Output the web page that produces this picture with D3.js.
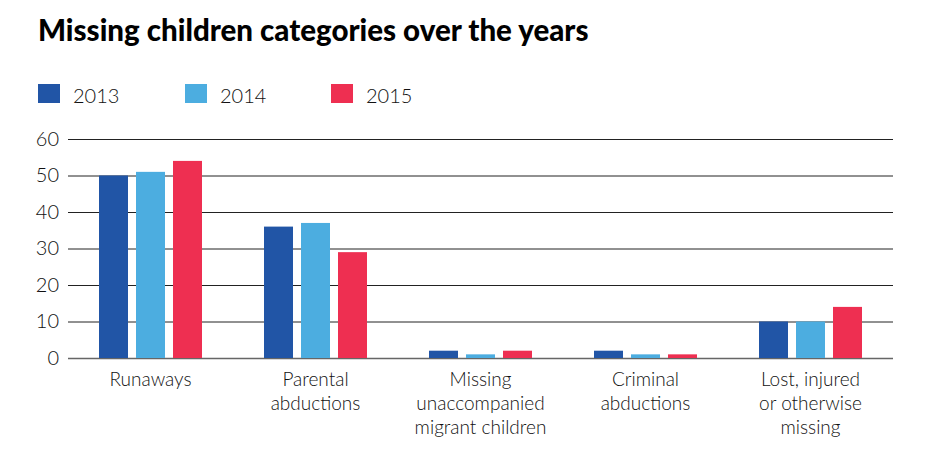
<html>
<head>
  <meta charset="UTF-8">
  <script src="https://d3js.org/d3.v7.min.js"></script>
  <style>
    body { margin: 0; background: #fff; }
    text { font-family: Lato, "Open Sans", sans-serif; }
  </style>
</head>
<body>
  <svg id="chart" width="926" height="452"></svg>
  <script>
    const categories = [
      ["Runaways"],
      ["Parental", "abductions"],
      ["Missing", "unaccompanied", "migrant children"],
      ["Criminal", "abductions"],
      ["Lost, injured", "or otherwise", "missing"]
    ];
    const years = ["2013", "2014", "2015"];
    const values2013 = [50, 36, 2, 2, 10];
    const values2014 = [51, 37, 1, 1, 10];
    const values2015 = [54, 29, 2, 1, 14];
    const yTicks = [0, 10, 20, 30, 40, 50, 60];
    const colors = ["#2155a6", "#4cade0", "#ee2f51"];

    const series = [values2013, values2014, values2015];
    const svg = d3.select("#chart");
    const margin = { top: 139, right: 33, bottom: 94, left: 68 };
    const width = 926 - margin.left - margin.right;
    const height = 452 - margin.top - margin.bottom;

    const x = d3.scaleBand()
      .domain(d3.range(categories.length))
      .range([margin.left, margin.left + width])
      .padding(0);
    const barW = 29, gap = 8;
    const y = d3.scaleLinear().domain([0, 60]).range([margin.top + height, margin.top]);

    // title
    svg.append("text")
      .attr("x", 38).attr("y", 41)
      .style("font-size", "29.5px").style("font-weight", 900)
      .attr("fill", "#000")
      .text("Missing children categories over the years");

    // legend
    const legendX = [38, 185, 331];
    years.forEach((yr, i) => {
      svg.append("rect").attr("x", legendX[i]).attr("y", 84)
        .attr("width", 22).attr("height", 19).attr("fill", colors[i]);
      svg.append("text").attr("x", legendX[i] + 35).attr("y", 103)
        .style("font-size", "20px").style("font-weight", 300).attr("fill", "#111")
        .text(yr);
    });

    // gridlines and y labels
    const yAxis = d3.axisLeft(y).tickValues(yTicks)
      .tickSize(-width).tickPadding(9);
    const ga = svg.append("g")
      .attr("transform", "translate(" + margin.left + ",0)")
      .call(yAxis);
    ga.select(".domain").remove();
    ga.selectAll(".tick line")
      .attr("stroke", d => d === 0 ? "#666" : "#222")
      .attr("stroke-width", d => d === 0 ? 1.5 : 1);
    ga.selectAll(".tick text")
      .style("font-size", "20px").style("font-weight", 300)
      .style("font-family", "Lato, sans-serif")
      .attr("fill", "#111");

    // bars
    const groupW = barW * 3 + gap * 2;
    series.forEach((vals, s) => {
      svg.append("g").selectAll("rect").data(vals).join("rect")
        .attr("x", (d, i) => x(i) + (x.bandwidth() - groupW) / 2 + s * (barW + gap))
        .attr("y", d => y(d))
        .attr("width", barW)
        .attr("height", d => y(0) - y(d))
        .attr("fill", colors[s]);
    });

    // category labels
    categories.forEach((lines, i) => {
      const t = svg.append("text")
        .attr("text-anchor", "middle")
        .attr("x", x(i) + x.bandwidth() / 2)
        .attr("y", 386)
        .style("font-size", "19px").style("font-weight", 300)
        .attr("fill", "#111");
      lines.forEach((ln, j) => {
        t.append("tspan").attr("x", x(i) + x.bandwidth() / 2)
          .attr("dy", j === 0 ? 0 : 24).text(ln);
      });
    });
  </script>
</body>
</html>
